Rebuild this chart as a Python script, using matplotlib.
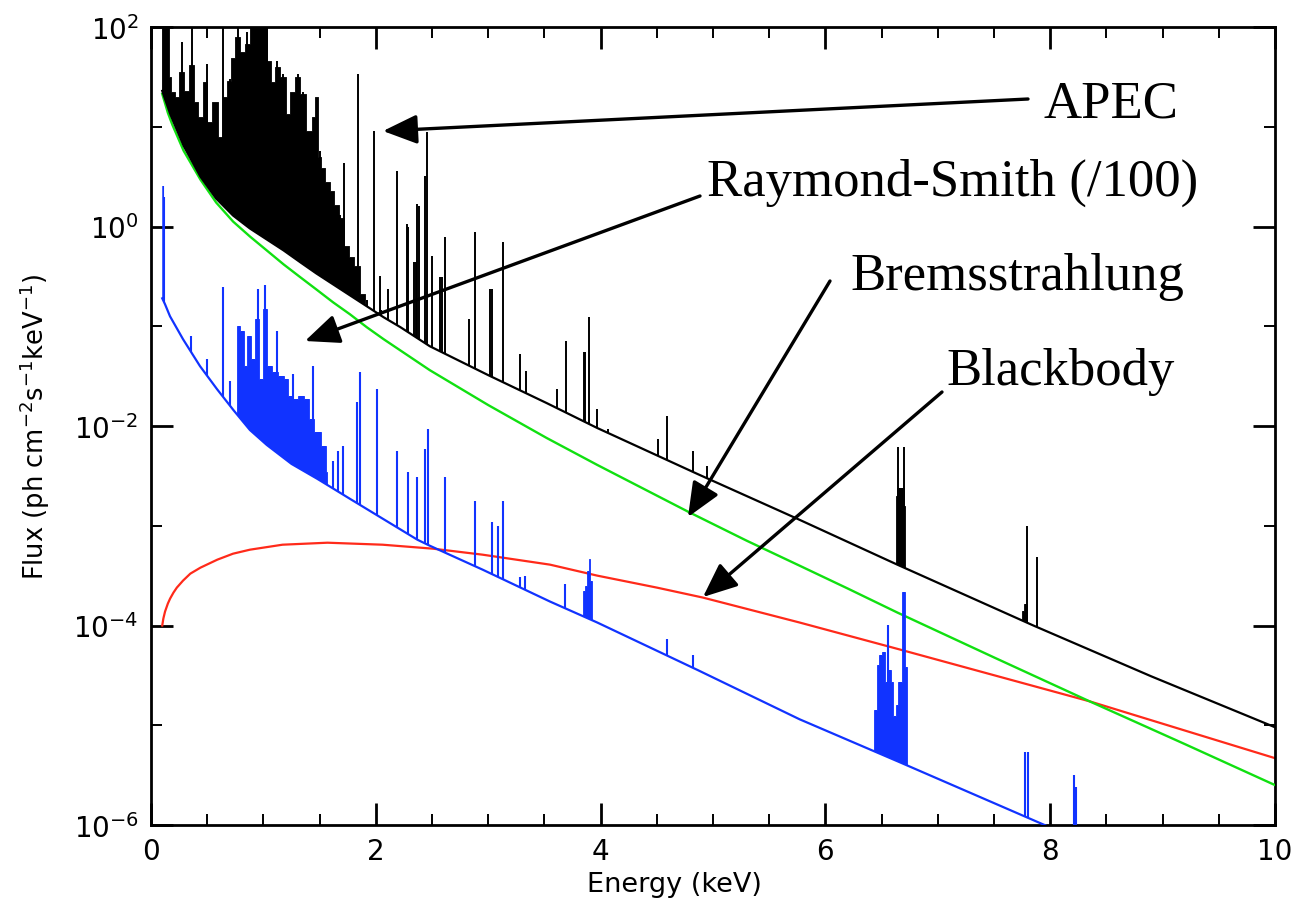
import numpy as np
import matplotlib
matplotlib.use('Agg')
import matplotlib.pyplot as plt
from matplotlib.patches import Polygon
from matplotlib.ticker import FixedLocator, FixedFormatter, NullFormatter

# ---------------- data (energy in keV, log10 flux) ----------------
apec_cont_e = [0.10, 0.17, 0.29, 0.44, 0.58, 0.73, 0.88, 1.03, 1.18, 1.33, 1.47, 1.62, 1.77,
               1.92, 2.07, 2.22, 2.48, 3.00, 3.52, 3.97, 4.86, 5.75, 6.64, 7.85, 8.90, 10.0]
apec_cont_logf = [1.36, 1.13, 0.81, 0.50, 0.28, 0.11, -0.02, -0.13, -0.24, -0.36, -0.47, -0.58, -0.69,
                  -0.80, -0.91, -1.01, -1.20, -1.49, -1.77, -2.02, -2.48, -2.93, -3.39, -4.00, -4.51, -5.02]

apec_forest_e = [0.10, 0.155, 0.165, 0.19, 0.23, 0.27, 0.31, 0.36, 0.40, 0.44, 0.48, 0.52, 0.57,
                 0.62, 0.66, 0.69, 0.73, 0.77, 0.82, 0.86, 0.90, 1.02, 1.05, 1.09, 1.12, 1.18,
                 1.22, 1.26, 1.30, 1.35, 1.41, 1.45, 1.47, 1.50, 1.52, 1.57, 1.61, 1.65, 1.70,
                 1.74, 1.78, 1.83, 1.88, 1.92]
apec_forest_logf = [2.3, 2.3, 1.50, 1.35, 1.30, 1.55, 1.36, 1.62, 1.25, 1.10, 1.45, 1.05, 1.25,
                    0.90, 1.30, 1.46, 1.69, 1.90, 1.75, 1.83, 2.3, 2.3, 1.66, 1.45, 1.60, 1.50,
                    1.13, 1.35, 1.50, 1.33, 0.96, 1.10, 1.30, 0.70, 0.59, 0.45, 0.36, 0.22, 0.09,
                    -0.20, -0.31, -0.40, -0.68, -0.80]
apec_fe_e = [6.625, 6.63, 6.64, 6.70, 6.705, 6.71]
apec_fe_logf = [-3.5, -2.70, -2.62, -2.62, -2.80, -3.5]
apec_ni_e = [7.74, 7.75, 7.78, 7.80]
apec_ni_logf = [-4.1, -3.85, -3.78, -4.1]

apec_line_e = [0.107, 0.142, 0.276, 0.365, 0.498, 0.64, 0.703, 0.774, 0.854, 0.93,
               0.97, 1.00, 1.03, 1.12, 1.17, 1.31, 1.35, 1.50, 1.51, 1.57,
               1.62, 1.68, 1.72, 1.78, 1.84, 1.92, 1.98, 2.04, 2.05, 2.11,
               2.19, 2.28, 2.29, 2.34, 2.355, 2.37, 2.38, 2.44, 2.455, 2.50,
               2.575, 2.59, 2.62, 2.83, 2.88, 3.02, 3.035, 3.13, 3.28, 3.34,
               3.61, 3.69, 3.85, 3.865, 3.90, 3.97, 4.07, 4.51, 4.59, 4.82,
               4.95, 6.645, 6.70, 7.79, 7.88]
apec_line_logf = [2.5, 2.5, 1.85, 2.5, 1.63, 2.5, 1.48, 2.5, 1.95, 2.5,
                  2.5, 2.5, 2.5, 1.66, 1.53, 1.53, 1.35, 0.76, 0.56, 0.39,
                  0.28, 0.12, 0.64, -0.36, 1.53, -0.74, 0.96, -0.50, -0.84, -0.63,
                  0.56, 0.03, 0.00, -0.36, -0.36, 0.23, 0.21, 0.51, 0.95, -0.30,
                  -0.51, -0.51, -0.11, -0.93, -0.06, -0.63, -0.63, -0.16, -1.28, -1.45,
                  -1.63, -1.15, -1.26, -1.26, -0.91, -1.83, -2.03, -2.13, -1.90, -2.25,
                  -2.40, -2.21, -2.21, -3.00, -3.31]

rs_cont_e = [0.10, 0.125, 0.169, 0.285, 0.436, 0.587, 0.733, 0.88, 1.03, 1.25, 1.48, 1.77, 2.37,
             2.48, 2.95, 3.55, 3.97, 4.87, 5.77, 6.66, 7.97]
rs_cont_logf = [-0.72, -0.78, -0.90, -1.13, -1.40, -1.63, -1.84, -2.04, -2.19, -2.38, -2.53, -2.73,
                -3.14, -3.20, -3.44, -3.76, -3.97, -4.45, -4.94, -5.37, -6.01]

rs_forest_e = [0.762, 0.77, 0.81, 0.84, 0.87, 0.91, 0.94, 0.98, 1.01, 1.06, 1.10, 1.16, 1.20,
               1.24, 1.28, 1.33, 1.39, 1.42, 1.48, 1.54, 1.57]
rs_forest_logf = [-1.60, -1.00, -1.05, -1.40, -1.10, -1.33, -0.93, -1.53, -0.83, -1.40, -1.46,
                  -1.50, -1.53, -1.70, -1.73, -1.70, -1.73, -1.93, -2.06, -2.20, -2.46]
rs_s_e = [3.83, 3.85, 3.87, 3.885, 3.90, 3.915, 3.925]
rs_s_logf = [-3.95, -3.65, -3.60, -3.45, -3.33, -3.55, -3.95]
rs_fe_e = [6.43, 6.44, 6.47, 6.49, 6.52, 6.54, 6.55, 6.57, 6.59, 6.62, 6.64, 6.66, 6.675,
           6.68, 6.71, 6.715, 6.725, 6.73]
rs_fe_logf = [-5.05, -4.85, -4.40, -4.30, -4.27, -4.57, -4.50, -4.45, -4.57, -4.91, -4.80,
              -4.57, -4.57, -3.66, -3.66, -4.42, -4.42, -5.40]

rs_line_e = [0.103, 0.112, 0.36, 0.50, 0.64, 0.70, 0.95, 1.01, 1.12, 1.26,
             1.44, 1.62, 1.66, 1.71, 1.83, 1.86, 2.01, 2.19, 2.29, 2.37,
             2.44, 2.46, 2.62, 2.88, 3.03, 3.09, 3.13, 3.28, 3.33, 3.68,
             4.59, 4.82, 6.56, 7.78, 7.80, 8.21, 8.23]
rs_line_logf = [0.41, 0.30, -1.10, -1.33, -0.61, -1.55, -0.63, -0.59, -1.05, -1.48,
                -1.40, -2.35, -2.25, -2.20, -1.76, -1.46, -1.63, -2.25, -2.46, -2.51,
                -2.23, -2.03, -2.51, -2.75, -2.96, -3.00, -2.75, -3.51, -3.50, -3.58,
                -4.14, -4.30, -3.99, -5.27, -5.27, -5.50, -5.62]

brems_e = [0.10, 0.15, 0.19, 0.29, 0.44, 0.58, 0.73, 0.88, 1.03, 1.18, 1.33, 1.47, 1.62, 1.77,
           1.92, 2.07, 2.48, 3.00, 3.52, 3.97, 4.78, 5.30, 5.77, 6.20, 6.64, 7.50, 8.35, 9.20, 10.0]
brems_logf = [1.33, 1.14, 1.02, 0.76, 0.47, 0.24, 0.05, -0.10, -0.24, -0.38, -0.51, -0.63, -0.76,
              -0.88, -1.01, -1.13, -1.44, -1.79, -2.12, -2.39, -2.86, -3.15, -3.40, -3.63, -3.87,
              -4.32, -4.76, -5.19, -5.60]

bb_e = [0.10, 0.11, 0.125, 0.15, 0.17, 0.20, 0.23, 0.285, 0.35, 0.44, 0.59, 0.73, 0.88, 1.17,
        1.57, 2.06, 2.51, 2.95, 3.55, 3.97, 4.50, 4.91, 5.77, 6.66, 8.35, 10.0]
bb_logf = [-4.00, -3.93, -3.86, -3.78, -3.73, -3.67, -3.62, -3.55, -3.48, -3.42, -3.34, -3.28,
           -3.24, -3.19, -3.17, -3.19, -3.23, -3.29, -3.39, -3.50, -3.62, -3.72, -3.97, -4.24,
           -4.76, -5.33]

x_major = [0, 2, 4, 6, 8, 10]
x_major_labels = ['0', '2', '4', '6', '8', '10']
y_major = [1e-6, 1e-4, 1e-2, 1e0, 1e2]
y_major_labels = [r'$10^{-6}$', r'$10^{-4}$', r'$10^{-2}$', r'$10^{0}$', r'$10^{2}$']
y_minor = [1e-5, 1e-3, 1e-1, 1e1]

labels = ['APEC', 'Raymond-Smith (/100)', 'Bremsstrahlung', 'Blackbody']

# ---------------- figure ----------------
plt.rcParams['font.family'] = ['DejaVu Sans']
plt.rcParams['mathtext.fontset'] = 'dejavusans'

W, H = 1298, 912
fig = plt.figure(figsize=(W / 100, H / 100), dpi=100)
ax = fig.add_axes([151 / W, 1 - 826 / H, (1275 - 151) / W, (826 - 28) / H])
ax.set_xlim(0, 10)
ax.set_yscale('log')
ax.set_ylim(1e-6, 1e2)

BLACK = '#000000'
BLUE = '#1133ff'
GREEN = '#11e011'
RED = '#ff2a1a'
LOW = 1e-9


def lin(v):
    return [10.0 ** t for t in v]


def above(e, logf):
    verts = list(zip(e, lin(logf)))
    verts += [(e[-1], LOW), (11.0, LOW), (11.0, 1e8), (e[0], 1e8)]
    return Polygon(verts, closed=True, transform=ax.transData)


def blend(e, logf, color, clip, z):
    pc = ax.fill_between(e, LOW, lin(logf), step='mid', color=color, lw=0.6, zorder=z)
    pc.set_clip_path(clip)


def lines(e, logf, color, clip, lw, z):
    lc = ax.vlines(e, LOW, lin(logf), colors=color, lw=lw, zorder=z)
    lc.set_clip_path(clip)


# red and green continua
ax.plot(bb_e, lin(bb_logf), color=RED, lw=1.6, zorder=2)
ax.plot(brems_e, lin(brems_logf), color=GREEN, lw=1.7, zorder=3)

# Raymond-Smith (blue)
rs_clip = above(rs_cont_e, rs_cont_logf)
blend(rs_forest_e, rs_forest_logf, BLUE, rs_clip, 4)
blend(rs_s_e, rs_s_logf, BLUE, rs_clip, 4)
blend(rs_fe_e, rs_fe_logf, BLUE, rs_clip, 4)
lines(rs_line_e, rs_line_logf, BLUE, rs_clip, 1.5, 4)
ax.plot(rs_cont_e, lin(rs_cont_logf), color=BLUE, lw=1.6, zorder=4)

# APEC (black)
ap_clip = above(apec_cont_e, apec_cont_logf)
blend(apec_forest_e, apec_forest_logf, BLACK, ap_clip, 5)
blend(apec_fe_e, apec_fe_logf, BLACK, ap_clip, 5)
blend(apec_ni_e, apec_ni_logf, BLACK, ap_clip, 5)
lines(apec_line_e, apec_line_logf, BLACK, ap_clip, 1.4, 5)
ax.plot(apec_cont_e, lin(apec_cont_logf), color=BLACK, lw=1.6, zorder=5)

# axes styling
for s in ax.spines.values():
    s.set_linewidth(2.0)
ax.xaxis.set_major_locator(FixedLocator(x_major))
ax.xaxis.set_major_formatter(FixedFormatter(x_major_labels))
ax.xaxis.set_minor_locator(FixedLocator(np.arange(0, 10.01, 0.5)))
ax.yaxis.set_major_locator(FixedLocator(y_major))
ax.yaxis.set_major_formatter(FixedFormatter(y_major_labels))
ax.yaxis.set_minor_locator(FixedLocator(y_minor))
ax.yaxis.set_minor_formatter(NullFormatter())
ax.tick_params(which='both', direction='in', top=True, right=True)
ax.tick_params(which='major', length=16, width=2.0, labelsize=20, pad=9)
ax.tick_params(which='minor', length=8, width=1.4)

ax.set_xlabel('Energy (keV)', fontsize=19.5)
ax.xaxis.set_label_coords(0.466, -0.058)
ax.set_ylabel(r'Flux (ph cm$^{-2}$s$^{-1}$keV$^{-1}$)', fontsize=18.5)
ax.yaxis.set_label_coords(-0.088, 0.50)


def fxy(px, py):
    return (px / W, 1 - py / H)


text_px = [(1043, 117), (707, 196), (850, 290), (946, 385)]
for lab, (px, py) in zip(labels, text_px):
    fig.text(*fxy(px, py), lab, fontfamily='Liberation Serif', fontsize=38,
             ha='left', va='baseline')

arrows_px = [((1028, 100), (383, 132)), ((700, 197), (305, 342)),
             ((830, 282), (688, 518)), ((942, 393), (703, 598))]
for (s, t) in arrows_px:
    ax.annotate('', xy=fxy(*t), xytext=fxy(*s), xycoords='figure fraction',
                textcoords='figure fraction',
                arrowprops=dict(arrowstyle='-|>,head_length=1.05,head_width=0.45',
                                mutation_scale=20, lw=2.4, color='k',
                                shrinkA=0, shrinkB=0))

fig.savefig('out.png', dpi=100)
